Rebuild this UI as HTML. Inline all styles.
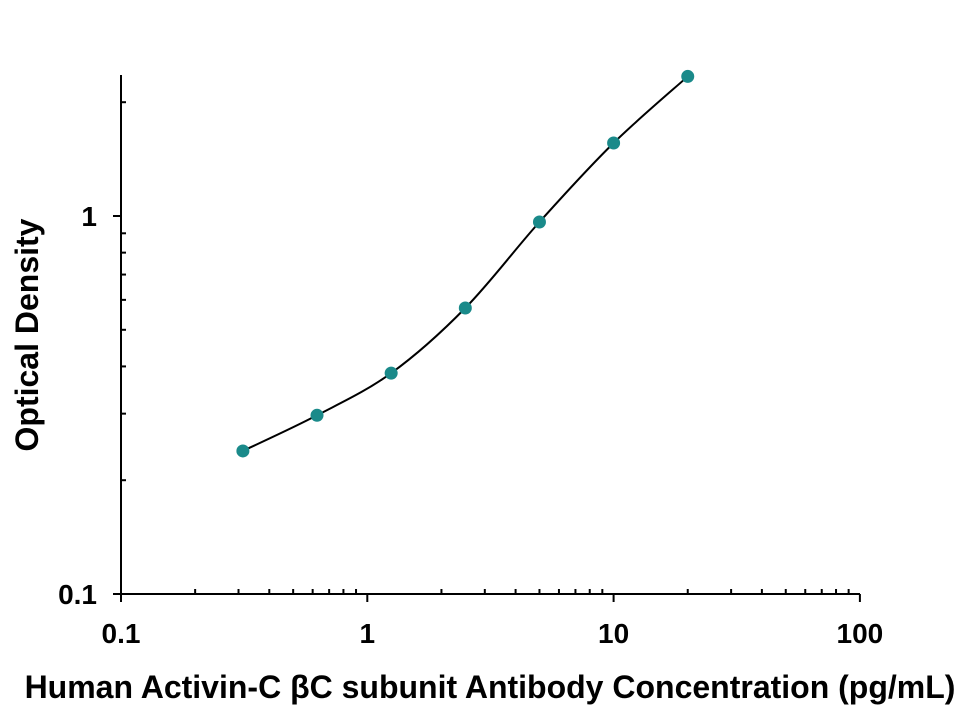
<!DOCTYPE html>
<html><head><meta charset="utf-8"><style>
body{margin:0;background:#fff}
svg{display:block;font-family:"Liberation Sans",sans-serif;font-weight:bold}
</style></head><body>
<svg id="chart" width="968" height="709" viewBox="0 0 968 709" xmlns="http://www.w3.org/2000/svg">
<g id="axes"></g>
<path id="curve" fill="none" stroke="#000" stroke-width="2"/>
<g id="points"></g>
<text transform="translate(38,335) rotate(-90)" text-anchor="middle" font-size="32">Optical Density</text>
<text x="490" y="698" text-anchor="middle" font-size="32">Human Activin-C βC subunit Antibody Concentration (pg/mL)</text>
</svg>
<script>
const concentrations=[0.3125,0.625,1.25,2.5,5,10,20];
const odValues=[0.239,0.297,0.384,0.571,0.964,1.56,2.34];
const xTickLabels=["0.1","1","10","100"];
const yTickLabels=["0.1","1"];
const NS="http://www.w3.org/2000/svg";
const X0=121,XD=246.3,Y0=594,YD=378;
function sx(v){return X0+XD*Math.log10(v/0.1);}
function sy(v){return Y0-YD*Math.log10(v/0.1);}
const axes=document.getElementById('axes');
function line(x1,y1,x2,y2,name){const l=document.createElementNS(NS,'line');
l.setAttribute('x1',x1);l.setAttribute('y1',y1);l.setAttribute('x2',x2);l.setAttribute('y2',y2);
l.setAttribute('stroke','#000');l.setAttribute('stroke-width','2');


axes.appendChild(l);return l;}
function txt(x,y,s,anchor,name){const t=document.createElementNS(NS,'text');
t.setAttribute('x',x);t.setAttribute('y',y);t.setAttribute('text-anchor',anchor);t.setAttribute('font-size','28');t.textContent=s;


axes.appendChild(t);}
line(X0,Y0,860,Y0,'x-axis-line');
line(X0,75,X0,Y0,'y-axis-line');
xTickLabels.forEach(s=>{const v=parseFloat(s),x=sx(v);
line(x,Y0,x,Y0+8,'x-major-tick');txt(x,643,s,'middle','x-tick-label');
if(v<100){for(let k=2;k<10;k++){const xm=sx(v*k);line(xm,Y0,xm,Y0-5,'x-minor-tick');}}});
yTickLabels.forEach(s=>{const v=parseFloat(s),y=sy(v);
line(X0-8,y,X0,y,'y-major-tick');txt(X0-24,y+10,s,'end','y-tick-label');
for(let k=2;k<10;k++){const ym=sy(v*k);if(ym>=75)line(X0,ym,X0+5,ym,'y-minor-tick');}});
const pts=concentrations.map((c,i)=>[sx(c),sy(odValues[i])]);
let d='M'+pts[0][0]+','+pts[0][1];
for(let i=0;i<pts.length-1;i++){const p0=pts[Math.max(0,i-1)],p1=pts[i],p2=pts[i+1],p3=pts[Math.min(pts.length-1,i+2)];
const c1=[p1[0]+(p2[0]-p0[0])/6,p1[1]+(p2[1]-p0[1])/6],c2=[p2[0]-(p3[0]-p1[0])/6,p2[1]-(p3[1]-p1[1])/6];
d+=` C${c1[0]},${c1[1]} ${c2[0]},${c2[1]} ${p2[0]},${p2[1]}`;}
document.getElementById('curve').setAttribute('d',d);
const g=document.getElementById('points');
pts.forEach(p=>{const c=document.createElementNS(NS,'circle');
c.setAttribute('cx',p[0]);c.setAttribute('cy',p[1]);c.setAttribute('r','6.5');c.setAttribute('fill','#1a8a8a');


g.appendChild(c);});
</script>
</body></html>
